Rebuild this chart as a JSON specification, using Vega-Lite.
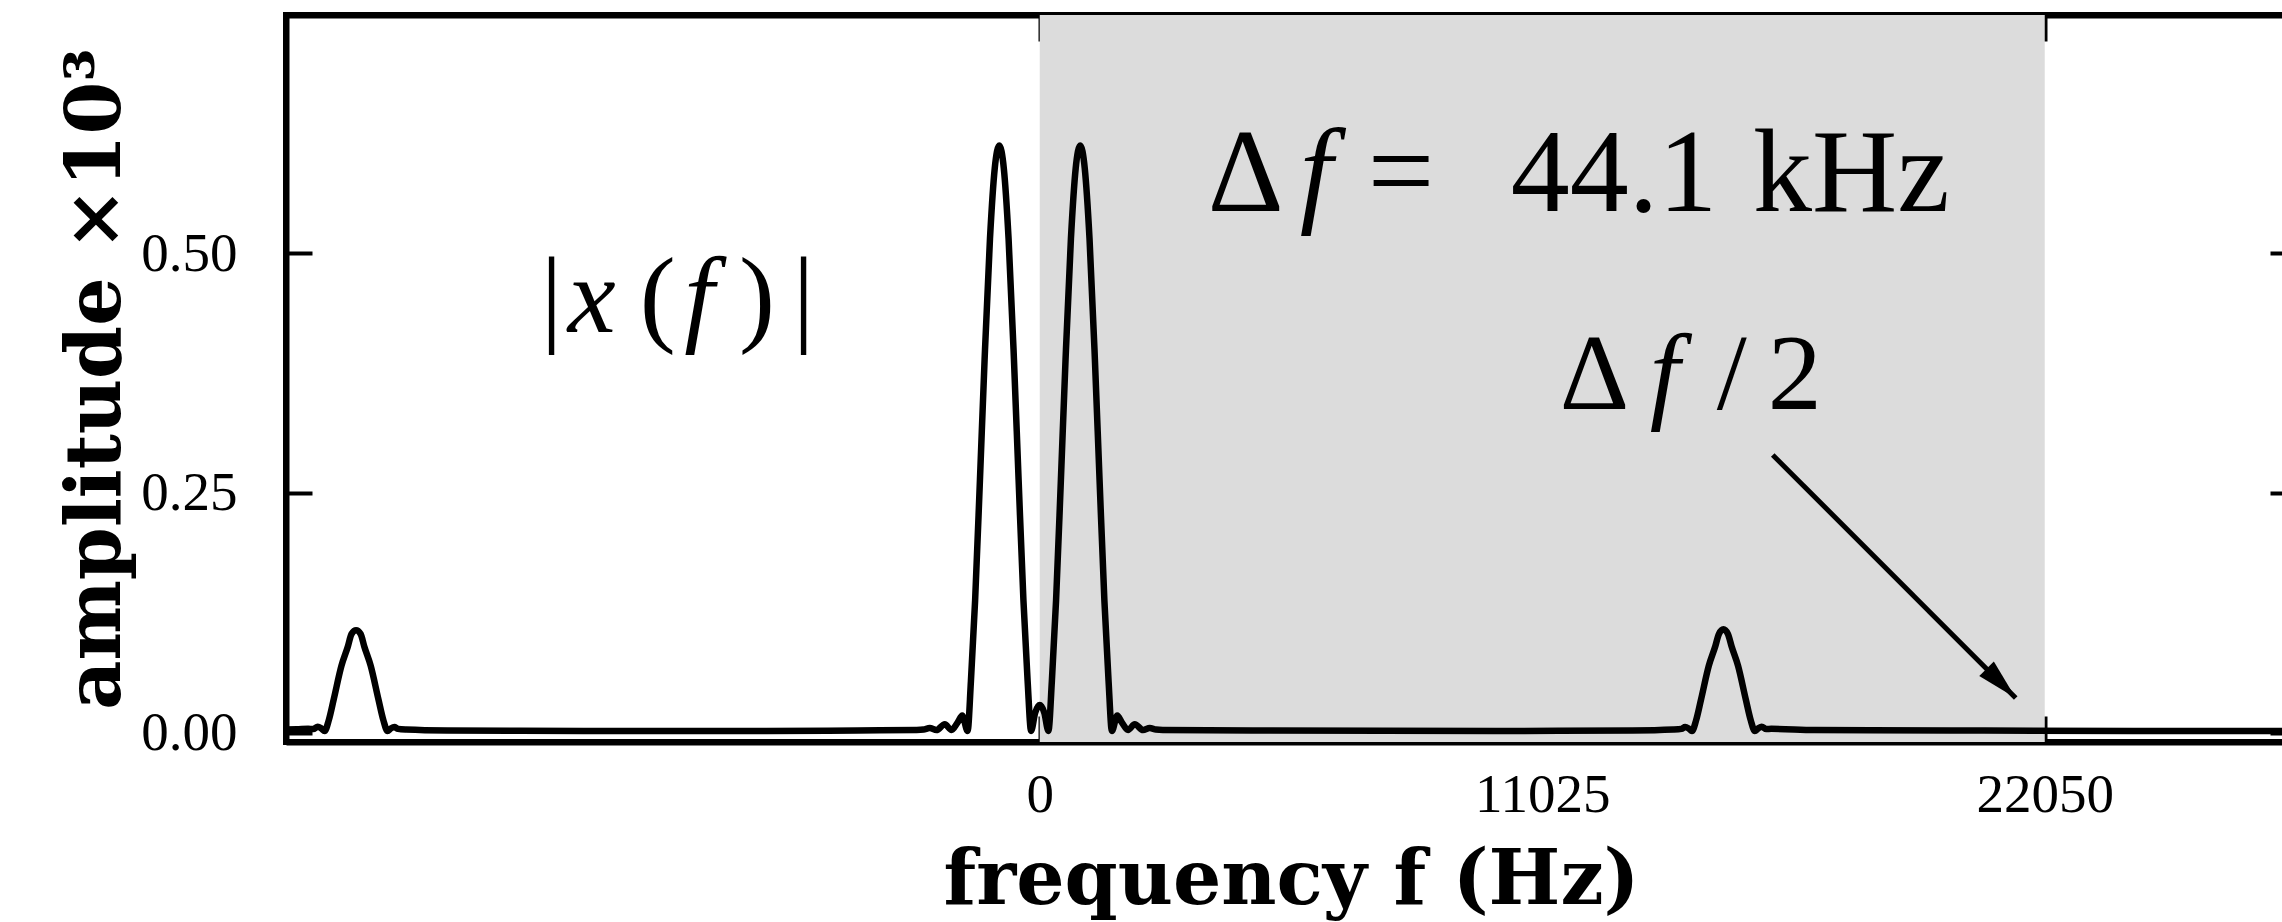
{
  "$schema": "https://vega.github.io/schema/vega-lite/v6.json",
  "width": 2010,
  "height": 727,
  "autosize": {"type": "none"},
  "padding": {"left": 286, "top": 15, "right": 0, "bottom": 180},
  "background": "white",
  "config": {
    "view": {"stroke": "black", "strokeWidth": 6},
    "axis": {
      "zindex": 1,
      "grid": false,
      "domainColor": "black",
      "domainWidth": 6,
      "tickColor": "black",
      "tickWidth": 4,
      "tickSize": -26,
      "labelFont": "Liberation Serif",
      "labelFontSize": 55,
      "labelColor": "black",
      "titleFont": "DejaVu Serif",
      "titleFontSize": 76,
      "titleFontWeight": "bold",
      "titleColor": "black"
    }
  },
  "datasets": {
    "band": [{"lo": 0, "hi": 22050}],
    "spectrum": [
      {"freq": -16537.5, "amp": 0.0035},
      {"freq": -16300, "amp": 0.0037},
      {"freq": -16050, "amp": 0.0042},
      {"freq": -15940, "amp": 0.004},
      {"freq": -15840, "amp": 0.0065},
      {"freq": -15760, "amp": 0.0045},
      {"freq": -15690, "amp": 0.002},
      {"freq": -15600, "amp": 0.013},
      {"freq": -15490, "amp": 0.035},
      {"freq": -15320, "amp": 0.07},
      {"freq": -15180, "amp": 0.09},
      {"freq": -15100, "amp": 0.103},
      {"freq": -15000, "amp": 0.107},
      {"freq": -14900, "amp": 0.103},
      {"freq": -14820, "amp": 0.09},
      {"freq": -14680, "amp": 0.07},
      {"freq": -14510, "amp": 0.035},
      {"freq": -14400, "amp": 0.013},
      {"freq": -14310, "amp": 0.002},
      {"freq": -14240, "amp": 0.0045},
      {"freq": -14160, "amp": 0.006},
      {"freq": -14080, "amp": 0.0042},
      {"freq": -13900, "amp": 0.0035},
      {"freq": -13000, "amp": 0.0025},
      {"freq": -10000, "amp": 0.002},
      {"freq": -6000, "amp": 0.002},
      {"freq": -4000, "amp": 0.0025},
      {"freq": -2700, "amp": 0.003},
      {"freq": -2550, "amp": 0.0035},
      {"freq": -2413, "amp": 0.005},
      {"freq": -2266, "amp": 0.003},
      {"freq": -2084, "amp": 0.009},
      {"freq": -1937, "amp": 0.003},
      {"freq": -1800, "amp": 0.011},
      {"freq": -1700, "amp": 0.018},
      {"freq": -1583, "amp": 0.002},
      {"freq": -1510, "amp": 0.054},
      {"freq": -1418, "amp": 0.138},
      {"freq": -1312, "amp": 0.264},
      {"freq": -1210, "amp": 0.389},
      {"freq": -1092, "amp": 0.515},
      {"freq": -988, "amp": 0.588},
      {"freq": -888, "amp": 0.612},
      {"freq": -788, "amp": 0.588},
      {"freq": -684, "amp": 0.515},
      {"freq": -566, "amp": 0.389},
      {"freq": -464, "amp": 0.264},
      {"freq": -358, "amp": 0.138},
      {"freq": -266, "amp": 0.054},
      {"freq": -190, "amp": 0.002},
      {"freq": -100, "amp": 0.021},
      {"freq": 0, "amp": 0.029},
      {"freq": 100, "amp": 0.021},
      {"freq": 190, "amp": 0.002},
      {"freq": 266, "amp": 0.054},
      {"freq": 358, "amp": 0.138},
      {"freq": 464, "amp": 0.264},
      {"freq": 566, "amp": 0.389},
      {"freq": 684, "amp": 0.515},
      {"freq": 788, "amp": 0.588},
      {"freq": 888, "amp": 0.612},
      {"freq": 988, "amp": 0.588},
      {"freq": 1092, "amp": 0.515},
      {"freq": 1210, "amp": 0.389},
      {"freq": 1312, "amp": 0.264},
      {"freq": 1418, "amp": 0.138},
      {"freq": 1510, "amp": 0.054},
      {"freq": 1583, "amp": 0.002},
      {"freq": 1700, "amp": 0.018},
      {"freq": 1800, "amp": 0.011},
      {"freq": 1937, "amp": 0.003},
      {"freq": 2084, "amp": 0.009},
      {"freq": 2266, "amp": 0.003},
      {"freq": 2413, "amp": 0.005},
      {"freq": 2550, "amp": 0.0035},
      {"freq": 2700, "amp": 0.003},
      {"freq": 5000, "amp": 0.0025},
      {"freq": 10000, "amp": 0.002},
      {"freq": 13000, "amp": 0.0025},
      {"freq": 13900, "amp": 0.0035},
      {"freq": 14080, "amp": 0.0042},
      {"freq": 14160, "amp": 0.006},
      {"freq": 14240, "amp": 0.0045},
      {"freq": 14310, "amp": 0.002},
      {"freq": 14400, "amp": 0.013},
      {"freq": 14510, "amp": 0.035},
      {"freq": 14680, "amp": 0.07},
      {"freq": 14820, "amp": 0.09},
      {"freq": 14900, "amp": 0.103},
      {"freq": 15000, "amp": 0.108},
      {"freq": 15100, "amp": 0.103},
      {"freq": 15180, "amp": 0.09},
      {"freq": 15320, "amp": 0.07},
      {"freq": 15490, "amp": 0.035},
      {"freq": 15600, "amp": 0.013},
      {"freq": 15690, "amp": 0.002},
      {"freq": 15760, "amp": 0.0045},
      {"freq": 15840, "amp": 0.0065},
      {"freq": 15940, "amp": 0.004},
      {"freq": 16050, "amp": 0.0042},
      {"freq": 17000, "amp": 0.003},
      {"freq": 20000, "amp": 0.0025},
      {"freq": 24000, "amp": 0.002},
      {"freq": 27562.5, "amp": 0.002}
    ],
    "arrow": [{"x0": 16082, "y0": 0.2896, "x1": 21413, "y1": 0.0364}],
    "bigUpright": [
      {"t": "Δ", "freq": 3686, "amp": 0.544},
      {"t": "=", "freq": 7196, "amp": 0.544},
      {"t": "44.1", "freq": 10334, "amp": 0.544},
      {"t": "kHz", "freq": 15650, "amp": 0.544}
    ],
    "bigItalic": [
      {"t": "f", "freq": 5705, "amp": 0.544}
    ],
    "midUpright": [
      {"t": "|", "freq": -10948, "amp": 0.418},
      {"t": "(", "freq": -8776, "amp": 0.418},
      {"t": ")", "freq": -6600, "amp": 0.418},
      {"t": "|", "freq": -5419, "amp": 0.418},
      {"t": "Δ", "freq": 11409, "amp": 0.337},
      {"t": "/", "freq": 14853, "amp": 0.337},
      {"t": "2", "freq": 15972, "amp": 0.337}
    ],
    "midItalic": [
      {"t": "x", "freq": -10356, "amp": 0.418},
      {"t": "f", "freq": -7800, "amp": 0.418},
      {"t": "f", "freq": 13383, "amp": 0.337}
    ]
  },
  "resolve": {"axis": {"x": "independent", "y": "independent"}},
  "layer": [
    {
      "data": {"name": "band"},
      "mark": {"type": "rect", "color": "#dcdcdc"},
      "encoding": {
        "x": {
          "field": "lo", "type": "quantitative",
          "scale": {"domain": [-16537.5, 27562.5], "nice": false, "zero": false},
          "axis": {
            "orient": "bottom", "values": [0, 11025, 22050], "format": "d",
            "labelPadding": 52, "title": "frequency f (Hz)",
            "titleBaseline": "alphabetic", "titleY": 161
          }
        },
        "x2": {"field": "hi"}
      }
    },
    {
      "data": {"name": "spectrum"},
      "mark": {"type": "line", "color": "black", "strokeWidth": 6.5, "interpolate": "monotone", "strokeJoin": "round"},
      "encoding": {
        "x": {
          "field": "freq", "type": "quantitative",
          "scale": {"domain": [-16537.5, 27562.5], "nice": false, "zero": false},
          "axis": {"orient": "top", "values": [0, 11025, 22050], "labels": false, "title": null}
        },
        "y": {
          "field": "amp", "type": "quantitative",
          "scale": {"domain": [-0.0095, 0.748], "nice": false, "zero": false},
          "axis": {
            "orient": "left", "values": [0, 0.25, 0.5], "format": ".2f",
            "labelPadding": 75, "title": "amplitude ×10³",
            "titleBaseline": "alphabetic", "titleAngle": -90, "titleX": -167, "titleY": 363.5
          }
        }
      }
    },
    {
      "data": {"name": "arrow"},
      "mark": {"type": "rule", "color": "black", "strokeWidth": 5},
      "encoding": {
        "x": {"field": "x0", "type": "quantitative", "scale": {"domain": [-16537.5, 27562.5], "nice": false, "zero": false}, "axis": null},
        "y": {
          "field": "y0", "type": "quantitative",
          "scale": {"domain": [-0.0095, 0.748], "nice": false, "zero": false},
          "axis": {"orient": "right", "values": [0, 0.25, 0.5], "labels": false, "title": null}
        },
        "x2": {"field": "x1"},
        "y2": {"field": "y1"}
      }
    },
    {
      "data": {"name": "arrow"},
      "mark": {"type": "point", "shape": "M0,0L-0.5,2L0.5,2Z", "filled": true, "color": "black", "opacity": 1, "size": 1700, "angle": 135},
      "encoding": {
        "x": {"field": "x1", "type": "quantitative", "scale": {"domain": [-16537.5, 27562.5], "nice": false, "zero": false}, "axis": null},
        "y": {"field": "y1", "type": "quantitative", "scale": {"domain": [-0.0095, 0.748], "nice": false, "zero": false}, "axis": null}
      }
    },
    {
      "data": {"name": "bigUpright"},
      "mark": {"type": "text", "font": "Liberation Serif", "fontSize": 118, "align": "left", "baseline": "alphabetic", "color": "black"},
      "encoding": {
        "x": {"field": "freq", "type": "quantitative", "scale": {"domain": [-16537.5, 27562.5], "nice": false, "zero": false}, "axis": null},
        "y": {"field": "amp", "type": "quantitative", "scale": {"domain": [-0.0095, 0.748], "nice": false, "zero": false}, "axis": null},
        "text": {"field": "t"}
      }
    },
    {
      "data": {"name": "bigItalic"},
      "mark": {"type": "text", "font": "Liberation Serif", "fontSize": 118, "fontStyle": "italic", "align": "left", "baseline": "alphabetic", "color": "black"},
      "encoding": {
        "x": {"field": "freq", "type": "quantitative", "scale": {"domain": [-16537.5, 27562.5], "nice": false, "zero": false}, "axis": null},
        "y": {"field": "amp", "type": "quantitative", "scale": {"domain": [-0.0095, 0.748], "nice": false, "zero": false}, "axis": null},
        "text": {"field": "t"}
      }
    },
    {
      "data": {"name": "midUpright"},
      "mark": {"type": "text", "font": "Liberation Serif", "fontSize": 108, "align": "left", "baseline": "alphabetic", "color": "black"},
      "encoding": {
        "x": {"field": "freq", "type": "quantitative", "scale": {"domain": [-16537.5, 27562.5], "nice": false, "zero": false}, "axis": null},
        "y": {"field": "amp", "type": "quantitative", "scale": {"domain": [-0.0095, 0.748], "nice": false, "zero": false}, "axis": null},
        "text": {"field": "t"}
      }
    },
    {
      "data": {"name": "midItalic"},
      "mark": {"type": "text", "font": "Liberation Serif", "fontSize": 108, "fontStyle": "italic", "align": "left", "baseline": "alphabetic", "color": "black"},
      "encoding": {
        "x": {"field": "freq", "type": "quantitative", "scale": {"domain": [-16537.5, 27562.5], "nice": false, "zero": false}, "axis": null},
        "y": {"field": "amp", "type": "quantitative", "scale": {"domain": [-0.0095, 0.748], "nice": false, "zero": false}, "axis": null},
        "text": {"field": "t"}
      }
    }
  ]
}
